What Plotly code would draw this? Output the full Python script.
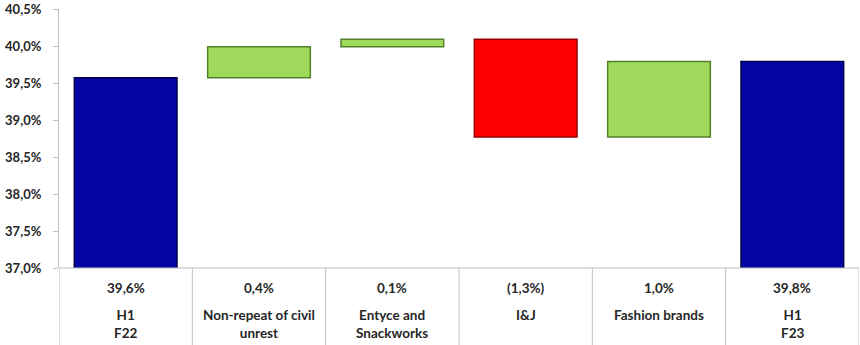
import plotly.graph_objects as go

categories = ["H1<br>F22", "Non-repeat of civil<br>unrest", "Entyce and<br>Snackworks", "I&J", "Fashion brands", "H1<br>F23"]
measures = ["total", "relative", "relative", "relative", "relative", "total"]
values = [39.57, 0.42, 0.10, -1.32, 1.02, 39.79]
value_labels = ["39,6%", "0,4%", "0,1%", "(1,3%)", "1,0%", "39,8%"]
y_ticks = [37.0, 37.5, 38.0, 38.5, 39.0, 39.5, 40.0, 40.5]
y_tick_labels = ["37,0%", "37,5%", "38,0%", "38,5%", "39,0%", "39,5%", "40,0%", "40,5%"]

# compute bar bases/heights
bases, heights, fills, lines = [], [], [], []
running = 0.0
for m, v in zip(measures, values):
    if m == "total":
        bases.append(0)
        heights.append(v)
        running = v
        fills.append("#0505A3")
        lines.append("#00004A")
    else:
        if v >= 0:
            bases.append(running)
            heights.append(v)
            fills.append("#9FDA5C")
            lines.append("#55802C")
        else:
            bases.append(running + v)
            heights.append(-v)
            fills.append("#FF0000")
            lines.append("#9A0000")
        running += v

xs = list(range(len(categories)))

fig = go.Figure()
fig.add_trace(go.Bar(
    x=xs, y=heights, base=bases, width=0.77,
    marker=dict(color=fills, line=dict(color=lines, width=1.5)),
    hoverinfo="skip", showlegend=False,
))

font_family = "Lato"
txt_color = "#262626"
grid_col = "#BFBFBF"

shapes = []
shapes.append(dict(type="line", xref="paper", yref="paper", x0=0, x1=1, y0=0, y1=0,
                   line=dict(color=grid_col, width=1)))
for i in range(len(categories) + 1):
    shapes.append(dict(type="line", xref="x", yref="paper", x0=i - 0.5, x1=i - 0.5,
                       y0=0, y1=-0.5, line=dict(color=grid_col, width=1)))

annotations = []
for i, (c, lab) in enumerate(zip(categories, value_labels)):
    annotations.append(dict(x=i, y=0, xref="x", yref="paper", text="<b>" + lab + "</b>", showarrow=False,
                            yanchor="middle", yshift=-20,
                            font=dict(family=font_family, size=13.5, color=txt_color)))
    annotations.append(dict(x=i, y=0, xref="x", yref="paper",
                            text="<br>".join("<b>" + s + "</b>" for s in c.split("<br>")),
                            showarrow=False, yanchor="top", yshift=-37,
                            font=dict(family=font_family, size=13.5, color=txt_color)))

fig.update_layout(
    width=860, height=345,
    margin=dict(l=59, r=1, t=9, b=77),
    paper_bgcolor="white", plot_bgcolor="white",
    shapes=shapes, annotations=annotations,
    font=dict(family=font_family, color=txt_color),
)
fig.update_xaxes(range=[-0.5, 5.5], showticklabels=False, showgrid=False, zeroline=False,
                 showline=False, ticks="")
fig.update_yaxes(range=[37.0, 40.5], tickvals=y_ticks,
                 ticktext=["<b>" + t + "</b>" for t in y_tick_labels],
                 showgrid=False, zeroline=False, showline=True, linecolor=grid_col, linewidth=1,
                 ticks="outside", ticklen=5, tickcolor=grid_col,
                 tickfont=dict(family=font_family, size=13, color=txt_color),
                 ticklabelstandoff=9)

fig.write_html("out.html")
